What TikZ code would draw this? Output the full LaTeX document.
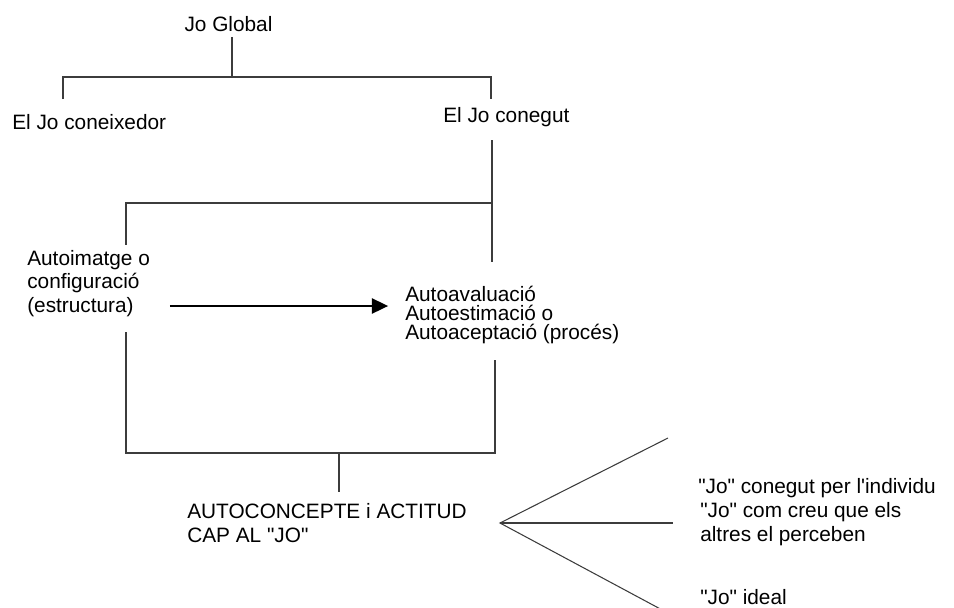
\documentclass[tikz,border=0pt]{standalone}
\usepackage{fontspec}
\setmainfont{Liberation Sans}[Ligatures=TeXOff]
\usetikzlibrary{arrows.meta,positioning}
\usepackage{xcolor}
\definecolor{treegray}{RGB}{60,60,60}

\tikzset{
  term/.style={font=\fontsize{14.8}{16.7}\selectfont, inner sep=0pt, anchor=west, align=left},
  tree/.style={draw=treegray, line width=0.75pt},
  main arrow/.style={line width=1.5pt, -{Triangle[length=11.5pt,width=10.7pt]}}
}

\begin{document}
\begin{tikzpicture}[x=0.025cm, y=-0.025cm]
  \useasboundingbox (0,0) rectangle (954,607);

  % Jo Global and its two branches
  \node[term, anchor=center] (global) at (228.5,24) {Jo Global};
  \node[term] (coneixedor) at (12,122) {El Jo coneixedor};
  \node[term] (conegut) at (443,117) {El Jo conegut};

  \coordinate (kL) at (63,99);
  \coordinate (kR) at (491,99);
  \draw[tree] (kL) -- ++(0,-22) coordinate (kbar) -| (kR);
  \draw[tree] ([xshift=2.5pt,yshift=-3.5pt]global.south) -- ([xshift=2.5pt]global.south |- kbar);

  % El Jo conegut splits in two
  \coordinate (cTop) at (492,140);
  \coordinate (avalTop) at (492,262);
  \coordinate (imgTop) at (126,245);
  \draw[tree] (cTop) -- (avalTop);
  \draw[tree] (cTop |- 0,203) -| (imgTop);

  % Structure and process
  \node[term, font=\fontsize{14.8}{16.7}\selectfont] (imatge) at (27,283.5)
    {Autoimatge o\\configuració\\(estructura)};
  \node[term, font=\fontsize{14.8}{13.2}\selectfont] (aval) at (405,315)
    {Autoavaluació\\Autoestimació o\\Autoaceptació (procés)};
  \draw[main arrow, shorten <=14pt, shorten >=12pt] (imatge.east |- 0,306) -- (aval.west |- 0,306);

  % Both join into the self-concept
  \coordinate (imgBot) at (126,332);
  \coordinate (avalBot) at (495,360);
  \coordinate (jBar) at (339,453);
  \coordinate (jEnd) at (339,492);
  \draw[tree] (imgBot) |- (avalBot |- jBar) -- (avalBot);
  \draw[tree] (jBar) -- (jEnd);

  \node[term, font=\fontsize{14.8}{17.1}\selectfont] (autoconcepte) at (187,523)
    {AUTOCONCEPTE i ACTITUD\\CAP AL "JO"};

  % Three views of the self
  \coordinate (fan) at (500,523);
  \coordinate (f1) at (668,438);
  \coordinate (f2) at (673,523);
  \coordinate (f3) at (666,612);
  \draw[tree] (f1) -- (fan) -- (f3);
  \draw[tree] (fan) -- (f2);

  \node[term] (individu) at (698,488.5) {"Jo" conegut per l'individu};
  \node[term] (altres) at (700,524) {"Jo" com creu que els\\altres el perceben};
  \node[term] (ideal) at (700,597) {"Jo" ideal};
\end{tikzpicture}
\end{document}
